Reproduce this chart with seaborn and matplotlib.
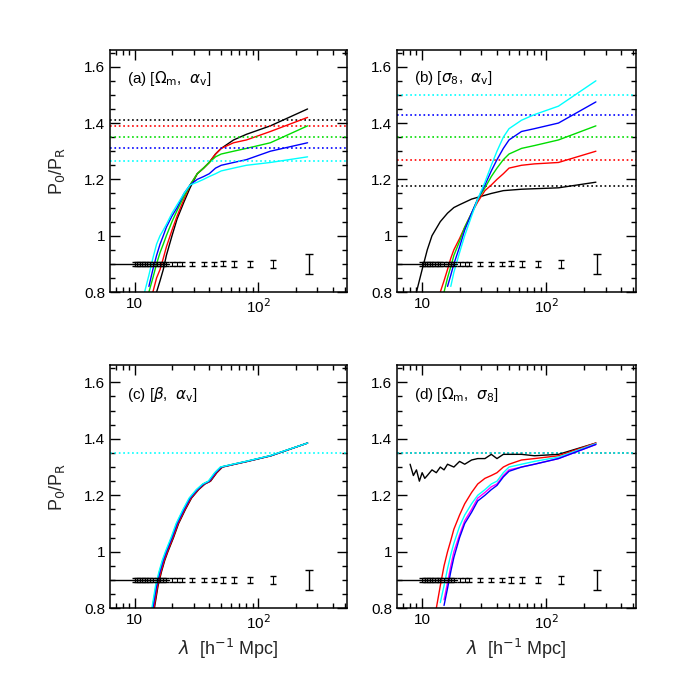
import matplotlib
matplotlib.use("Agg")
import matplotlib.pyplot as plt
import matplotlib.ticker as mt
import numpy as np, pandas as pd
import seaborn as sns

sns.set_style("ticks")
plt.rcParams["font.family"] = "Liberation Sans"
plt.rcParams["axes.edgecolor"] = "black"
plt.rcParams["xtick.color"] = "black"
plt.rcParams["ytick.color"] = "black"
plt.rcParams["text.color"] = "black"

cols = {"k": "black", "r": "red", "g": "#00dd00", "b": "blue", "c": "cyan", "m": "magenta"}

lam = [12, 13, 14, 15, 16, 17, 18, 20, 22, 25, 28, 32, 36, 40, 45, 50, 63, 80, 125, 250]

# panel (a) [Om, alpha_v]
a_k = [np.nan, np.nan, np.nan, 0.80, 0.84, 0.88, 0.93, 1.00, 1.06, 1.12, 1.17, 1.22, 1.24, 1.26, 1.29, 1.31, 1.34, 1.36, 1.39, 1.45]
a_r = [np.nan, np.nan, 0.80, 0.85, 0.88, 0.92, 0.96, 1.02, 1.07, 1.13, 1.18, 1.22, 1.24, 1.26, 1.29, 1.31, 1.33, 1.34, 1.37, 1.42]
a_g = [np.nan, 0.80, 0.85, 0.90, 0.94, 0.97, 1.00, 1.05, 1.09, 1.14, 1.18, 1.22, 1.24, 1.26, 1.28, 1.29, 1.30, 1.31, 1.33, 1.39]
a_b = [np.nan, 0.82, 0.88, 0.93, 0.97, 1.00, 1.03, 1.07, 1.10, 1.15, 1.18, 1.20, 1.21, 1.22, 1.24, 1.25, 1.26, 1.27, 1.30, 1.33]
a_c = [0.80, 0.86, 0.92, 0.97, 1.00, 1.02, 1.04, 1.08, 1.11, 1.15, 1.18, 1.19, 1.20, 1.21, 1.22, 1.23, 1.24, 1.25, 1.26, 1.28]
a_dot = {"k": 1.41, "r": 1.39, "g": 1.35, "b": 1.31, "c": 1.265}

# panel (b) [sigma8, alpha_v]
lam_bk = [9, 10, 11, 12, 14, 16, 18, 20, 25, 30, 36, 45, 63, 125, 250]
b_kk = [0.80, 0.88, 0.95, 1.00, 1.05, 1.08, 1.10, 1.11, 1.13, 1.14, 1.15, 1.16, 1.165, 1.17, 1.19]
b_r = [np.nan, np.nan, 0.80, 0.84, 0.88, 0.92, 0.95, 0.99, 1.03, 1.08, 1.12, 1.16, 1.18, 1.20, 1.22, 1.24, 1.25, 1.255, 1.26, 1.30]
b_g = [np.nan, np.nan, np.nan, 0.80, 0.85, 0.89, 0.93, 0.98, 1.03, 1.08, 1.13, 1.17, 1.21, 1.24, 1.27, 1.29, 1.31, 1.32, 1.34, 1.39]
b_b = [np.nan, np.nan, np.nan, np.nan, 0.82, 0.86, 0.90, 0.96, 1.02, 1.08, 1.13, 1.18, 1.23, 1.27, 1.31, 1.34, 1.37, 1.38, 1.40, 1.475]
b_c = [np.nan, np.nan, np.nan, np.nan, np.nan, 0.82, 0.87, 0.94, 1.00, 1.07, 1.13, 1.19, 1.25, 1.30, 1.35, 1.38, 1.41, 1.43, 1.46, 1.55]
b_dot = {"k": 1.175, "r": 1.27, "g": 1.35, "b": 1.43, "c": 1.50}

# panel (c) [beta, alpha_v]
c_all = [np.nan, np.nan, 0.80, 0.88, 0.93, 0.97, 1.00, 1.05, 1.10, 1.15, 1.19, 1.22, 1.24, 1.25, 1.28, 1.30, 1.31, 1.32, 1.34, 1.385]
c_off = {"k": 0.03, "r": 0.02, "g": -0.01, "b": 0.0, "c": -0.02}
c_dot = 1.35

# panel (d) [Om, sigma8]
lam_dk = [8, 8.5, 9, 9.5, 10, 10.5, 11, 12, 13, 14, 15, 16, 18, 20, 22, 25, 28, 32, 36, 40, 45, 50, 63, 80, 125, 250]
d_kk = [1.31, 1.27, 1.29, 1.25, 1.28, 1.26, 1.27, 1.29, 1.28, 1.30, 1.29, 1.31, 1.30, 1.32, 1.31, 1.325, 1.33, 1.33, 1.345, 1.33, 1.345, 1.345, 1.345, 1.34, 1.345, 1.385]
d_r = [np.nan, 0.80, 0.88, 0.95, 1.00, 1.04, 1.08, 1.13, 1.17, 1.21, 1.24, 1.26, 1.27, 1.28, 1.30, 1.31, 1.325, 1.33, 1.34, 1.385]
d_c = [np.nan, np.nan, 0.82, 0.88, 0.94, 0.99, 1.03, 1.09, 1.13, 1.17, 1.20, 1.22, 1.24, 1.25, 1.28, 1.30, 1.31, 1.32, 1.335, 1.383]
d_m = [np.nan, np.nan, np.nan, 0.83, 0.89, 0.95, 1.00, 1.06, 1.11, 1.15, 1.19, 1.21, 1.23, 1.24, 1.27, 1.29, 1.30, 1.31, 1.33, 1.38]
d_b = [np.nan, np.nan, np.nan, 0.81, 0.87, 0.93, 0.98, 1.05, 1.10, 1.14, 1.18, 1.20, 1.22, 1.235, 1.265, 1.285, 1.30, 1.31, 1.33, 1.38]
d_dot = 1.35

# error bars at P0/PR = 0.9
err_x = [10, 10.5, 11, 11.5, 12, 12.6, 13.3, 14, 15, 16, 17, 18, 20, 22, 24, 29, 36, 44, 52, 64, 85, 131]
err_h = [0.008] * 18 + [0.009, 0.01, 0.011, 0.013]
big_x, big_h = 255, 0.035

fig, axes = plt.subplots(2, 2, figsize=(6.92, 6.92), dpi=100)
pos = {(0, 0): [0.159, 0.578, 0.343, 0.350], (0, 1): [0.574, 0.578, 0.345, 0.350],
       (1, 0): [0.159, 0.121, 0.343, 0.351], (1, 1): [0.574, 0.121, 0.345, 0.351]}
for k, p in pos.items():
    axes[k].set_position(p)


def curve(ax, x, y, c, lw=1.0):
    df = pd.DataFrame({"x": x, "y": y}).dropna()
    sns.lineplot(data=df, x="x", y="y", color=cols[c], lw=lw, ax=ax, estimator=None, sort=False)


def style(ax, title):
    ax.set_xscale("log")
    ax.set_xlim(6.3, 525)
    ax.set_ylim(0.8, 1.66)
    ax.set_yticks([0.8, 1.0, 1.2, 1.4, 1.6])
    ax.set_yticklabels(["0.8", "1", "1.2", "1.4", "1.6"])
    ax.yaxis.set_minor_locator(mt.MultipleLocator(0.05))
    ax.set_xticks([10, 100])
    ax.set_xticklabels(["10", "10$^2$"])
    ax.xaxis.set_minor_locator(mt.LogLocator(subs=np.arange(2, 10)))
    ax.xaxis.set_minor_formatter(mt.NullFormatter())
    ax.tick_params(which="both", direction="in", top=True, right=True, labelsize=11, width=1)
    ax.tick_params(which="major", length=7)
    ax.tick_params(which="minor", length=3.5)
    for s in ax.spines.values():
        s.set_linewidth(1.1)
    ax.set_xlabel("")
    ax.set_ylabel("")
    ax.text(0.07, 0.92, title, transform=ax.transAxes, fontsize=11, va="top")
    ax.axhline(0.9, xmin=0, xmax=0.25, color="black", lw=1)
    ax.errorbar(err_x, [0.9] * len(err_x), yerr=err_h, fmt="none", ecolor="black", elinewidth=0.8, capsize=2)
    ax.errorbar([big_x], [0.9], yerr=[big_h], fmt="none", ecolor="black", elinewidth=1, capsize=3)


ax = axes[0, 0]
for c, y in zip("krgbc", [a_k, a_r, a_g, a_b, a_c]):
    ax.axhline(a_dot[c], color=cols[c], ls=":", lw=1.2)
    curve(ax, lam, y, c)
style(ax, r"(a) [$\Omega_{\rm m}$,  $\alpha_{\rm v}$]")

ax = axes[0, 1]
for c in "krgbc":
    ax.axhline(b_dot[c], color=cols[c], ls=":", lw=1.2)
curve(ax, lam_bk, b_kk, "k")
for c, y in zip("rgbc", [b_r, b_g, b_b, b_c]):
    curve(ax, lam, y, c)
style(ax, r"(b) [$\sigma_8$,  $\alpha_{\rm v}$]")

ax = axes[1, 0]
ax.axhline(c_dot, color=cols["c"], ls=":", lw=1.2)
for c in "krgbc":
    curve(ax, [v * (1 + c_off[c] * (250 - v) / 250) for v in lam], c_all, c)
style(ax, r"(c) [$\beta$,  $\alpha_{\rm v}$]")

ax = axes[1, 1]
ax.axhline(d_dot, color=cols["k"], ls=":", lw=1.2)
ax.axhline(d_dot, color=cols["c"], ls=":", lw=1.2)
curve(ax, lam_dk, d_kk, "k")
for c, y in zip("rcmb", [d_r, d_c, d_m, d_b]):
    curve(ax, lam, y, c)
style(ax, r"(d) [$\Omega_{\rm m}$,  $\sigma_8$]")

for r in range(2):
    axes[r, 0].set_ylabel(r"P$_0$/P$_{\rm R}$", fontsize=13, labelpad=12)
for c in range(2):
    axes[1, c].set_xlabel(r"$\lambda$  [h$^{-1}$ Mpc]", fontsize=13)

fig.savefig("out.png", dpi=100)
